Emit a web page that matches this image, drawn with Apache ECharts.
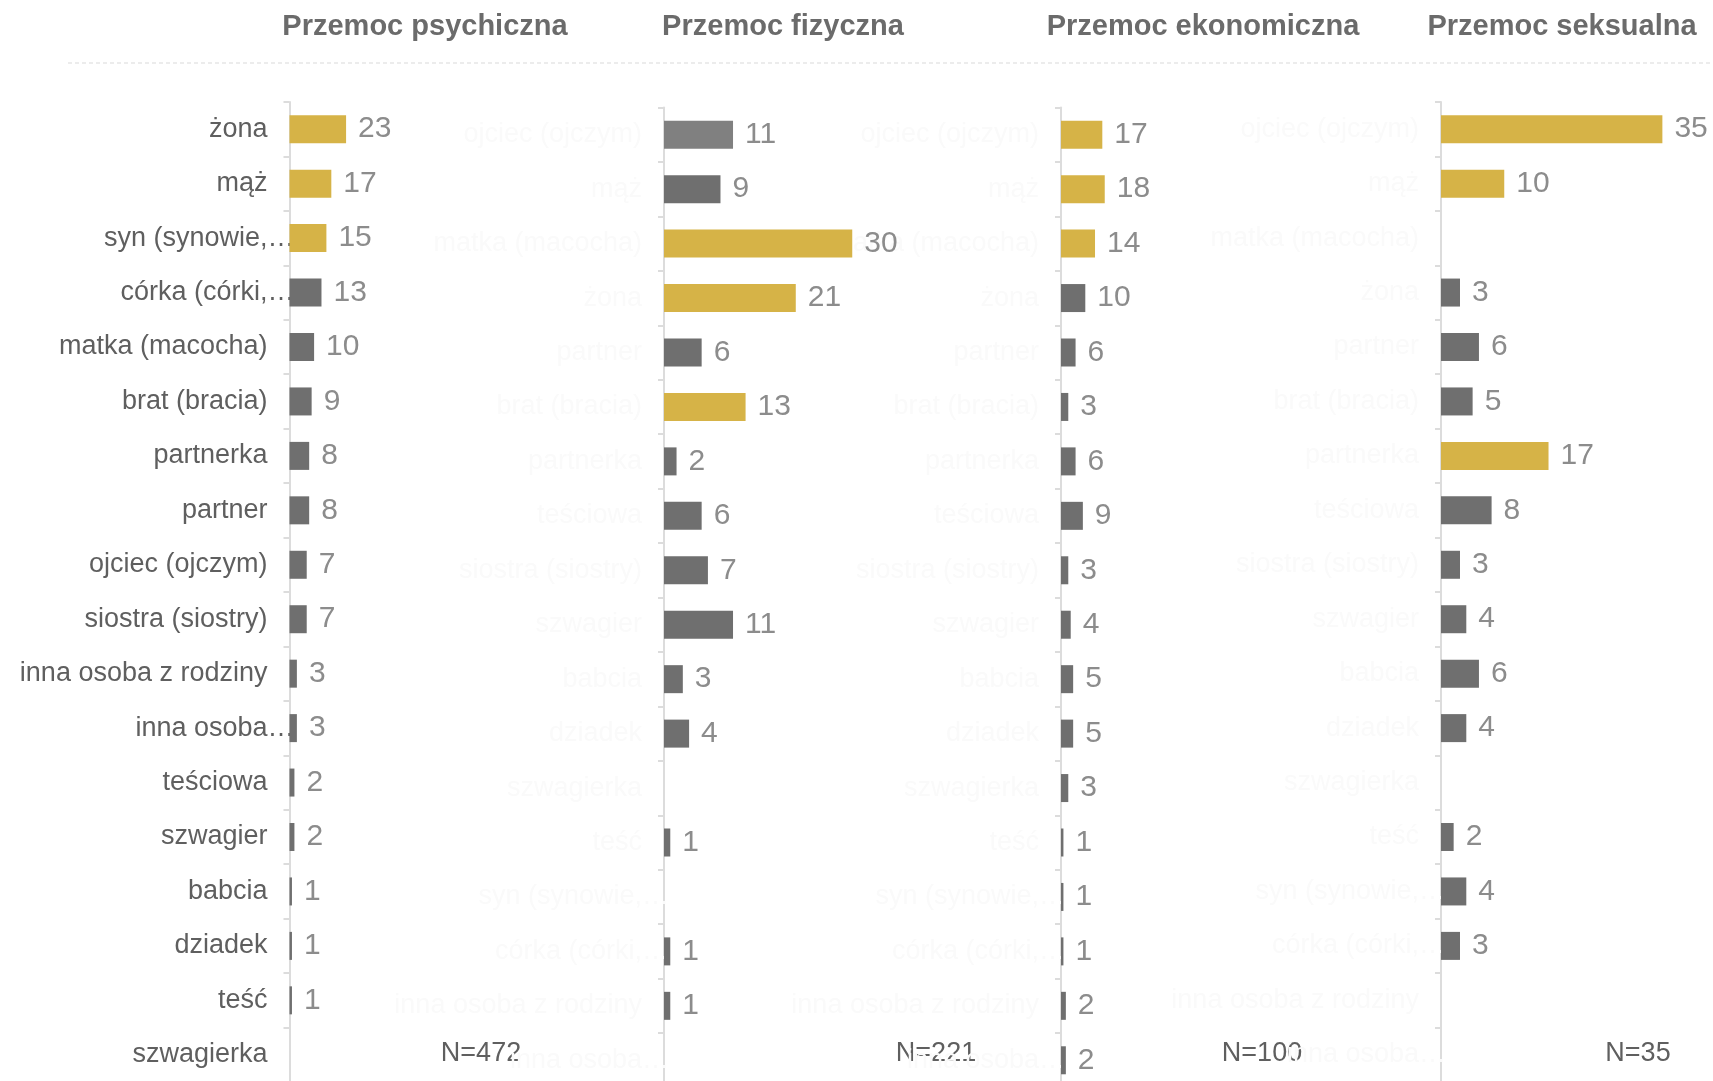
<!DOCTYPE html>
<html>
<head>
<meta charset="utf-8">
<script src="https://cdn.jsdelivr.net/npm/echarts@6/dist/echarts.min.js"></script>
<style>
html,body{margin:0;padding:0;background:#fff;}
#chart{width:1713px;height:1081px;}
</style>
</head>
<body>
<div id="chart"></div>
<script>
// ---- data ----
const categoriesPsych = ['żona','mąż','syn (synowie,…','córka (córki,…','matka (macocha)','brat (bracia)','partnerka','partner','ojciec (ojczym)','siostra (siostry)','inna osoba z rodziny','inna osoba…','teściowa','szwagier','babcia','dziadek','teść','szwagierka'];
const categoriesOther = ['ojciec (ojczym)','mąż','matka (macocha)','żona','partner','brat (bracia)','partnerka','teściowa','siostra (siostry)','szwagier','babcia','dziadek','szwagierka','teść','syn (synowie,…','córka (córki,…','inna osoba z rodziny','inna osoba…'];
const valuesPsych = [23,17,15,13,10,9,8,8,7,7,3,3,2,2,1,1,1,'-'];
const valuesFiz   = [11,9,30,21,6,13,2,6,7,11,3,4,'-',1,'-',1,1,'-'];
const valuesEko   = [17,18,14,10,6,3,6,9,3,4,5,5,3,1,1,1,2,2];
const valuesSeks  = [35,10,'-',3,6,5,17,8,3,4,6,4,'-',2,4,3,'-','-'];
const panelTitles = ['Przemoc psychiczna','Przemoc fizyczna','Przemoc ekonomiczna','Przemoc seksualna'];
const sampleLabels = ['N=472','N=221','N=100','N=35'];

// ---- layout / style ----
const GOLD = '#D6B347', GRAY = '#6F6F6F', LIGHT_GRAY = '#808080';
const FONT = '"Liberation Sans", Arial, sans-serif';
const panels = [
  {cats: categoriesPsych, vals: valuesPsych, left: 289.5, width: 246, max: 100, top: 102,   labelColor: '#5f5f5f', titleX: 425,  nX: 481,  lightFirst: false},
  {cats: categoriesOther, vals: valuesFiz,   left: 664,   width: 251, max: 40,  top: 107.5, labelColor: '#fafafa', titleX: 783,  nX: 936,  lightFirst: true},
  {cats: categoriesOther, vals: valuesEko,   left: 1061,  width: 243, max: 100, top: 107.5, labelColor: '#fafafa', titleX: 1203, nX: 1262, lightFirst: false},
  {cats: categoriesOther, vals: valuesSeks,  left: 1441,  width: 253, max: 40,  top: 102,   labelColor: '#fafafa', titleX: 1562, nX: 1638, lightFirst: false}
];
const GRID_HEIGHT = 980;

function topThreshold(vals){
  const nums = vals.filter(v => typeof v === 'number').sort((a,b)=>b-a);
  return nums[2];
}
// Excel-style truncated labels: ellipsis hangs past the alignment edge
function labelFormatter(v){
  if (v.endsWith('…')) return '{t|' + v.slice(0, -1) + '}{e|…}';
  return '{t|' + v + '}';
}

const grid = [], xAxis = [], yAxis = [], series = [], graphic = [];
panels.forEach((p, i) => {
  grid.push({left: p.left, width: p.width, top: p.top, height: GRID_HEIGHT, containLabel: false, outerBoundsMode: 'none'});
  xAxis.push({type: 'value', gridIndex: i, min: 0, max: p.max, show: false});
  yAxis.push({
    type: 'category', gridIndex: i, data: p.cats, inverse: true,
    axisLine: {show: true, lineStyle: {color: '#dcdcdc', width: 2}},
    axisTick: {show: true, length: 6, lineStyle: {color: '#dcdcdc', width: 2}},
    axisLabel: {
      color: p.labelColor, fontSize: 27, fontFamily: FONT, margin: 22,
      formatter: labelFormatter,
      rich: {
        t: {color: p.labelColor, fontSize: 27, fontFamily: FONT, align: 'left'},
        e: {color: p.labelColor, fontSize: 27, fontFamily: FONT, width: 0, align: 'left'}
      }
    },
    splitLine: {show: false}
  });
  const thr = topThreshold(p.vals);
  series.push({
    type: 'bar', xAxisIndex: i, yAxisIndex: i, data: p.vals, barWidth: 28,
    itemStyle: {color: params => (params.value >= thr ? GOLD : (p.lightFirst && params.dataIndex === 0 ? LIGHT_GRAY : GRAY))},
    label: {show: true, position: 'right', distance: 12, color: '#8c8c8c', fontSize: 30, fontFamily: FONT},
    silent: true, animation: false
  });
  graphic.push({type: 'text', x: p.titleX, y: 27, style: {text: panelTitles[i], textAlign: 'center', textVerticalAlign: 'middle', font: 'bold 29px ' + FONT, fill: '#6b6b6b'}});
  graphic.push({type: 'text', x: p.nX, y: 1054, style: {text: sampleLabels[i], textAlign: 'center', textVerticalAlign: 'middle', font: '27px ' + FONT, fill: '#5f5f5f'}});
});
graphic.push({type: 'line', shape: {x1: 68, y1: 63, x2: 1713, y2: 63}, style: {stroke: '#d9d9d9', lineWidth: 1, lineDash: [4, 3]}});

const chart = echarts.init(document.getElementById('chart'), null, {renderer: 'canvas'});
chart.setOption({backgroundColor: '#ffffff', animation: false, grid, xAxis, yAxis, series, graphic});
</script>
</body>
</html>
